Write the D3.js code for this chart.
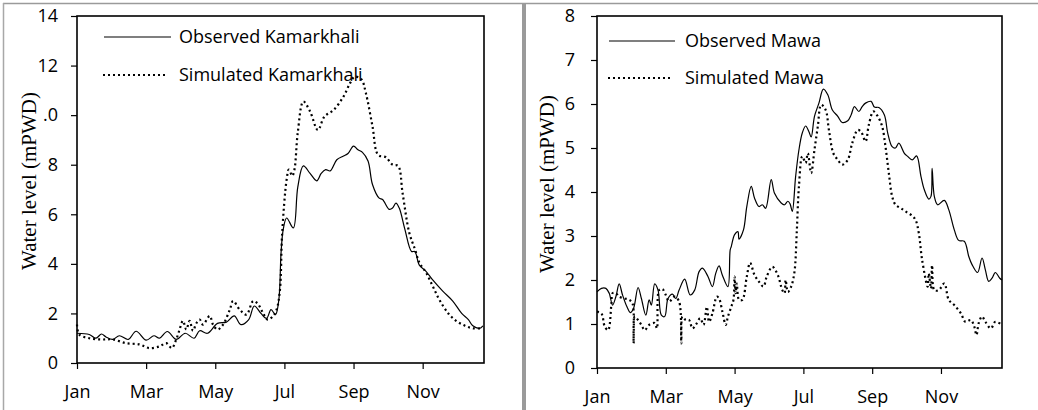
<!DOCTYPE html>
<html><head><meta charset="utf-8">
<script src="https://cdn.jsdelivr.net/npm/d3@7"></script>
<style>body{margin:0;background:#fff}svg{display:block}</style>
</head><body>
<svg id="c" width="1038" height="410"></svg>
<script>
// ---- data (day of year, water level mPWD) ----
const monthTickDays = [0, 62, 124, 186, 248, 310];
const monthTickLabels = ["Jan", "Mar", "May", "Jul", "Sep", "Nov"];

const kamTicks = [0, 2, 4, 6, 8, 10, 12, 14];
const kamTickLabels = ["0", "2", "4", "6", "8", ".0", "12", "14"];
const mawaTicks = [0, 1, 2, 3, 4, 5, 6, 7, 8];
const mawaTickLabels = ["0", "1", "2", "3", "4", "5", "6", "7", "8"];

const obsKamDays = [0,11,17,22,26,32,38,46,53,62,69,74,81,89,97,105,110,117,126,134,141,147,154,159,165,170,174,178,181,183,185,188,194,198,203,209,215,219,223,227,233,239,243,248,252,256,261,265,271,274,280,283,286,289,294,300,303,307,313,319,328,337,345,351,355,361,364];
const obsKamVals = [1.2,1.15,1.0,1.17,1.05,0.95,1.1,0.95,1.28,0.92,1.1,1.0,1.27,0.95,1.2,1.0,1.3,1.2,1.6,1.65,1.9,1.55,1.75,2.3,2.0,1.8,2.15,1.95,2.55,4.45,5.4,5.85,5.45,7.1,7.95,7.65,7.35,7.65,7.8,7.75,8.2,8.35,8.45,8.75,8.6,8.5,8.15,7.2,6.65,6.6,6.2,6.25,6.45,6.25,5.4,4.5,4.5,3.95,3.7,3.35,2.9,2.5,2.0,1.75,1.5,1.4,1.5];

const simKamDays = [0,2,11,22,32,44,56,65,74,80,85,89,92,95,98,101,104,107,110,113,119,122,126,131,137,140,146,152,158,162,167,171,176,179,182,184,188,190,193,195,198,203,209,216,222,230,239,245,249,255,259,265,270,277,283,288,292,298,303,307,313,319,325,333,340,348,355,364];
const simKamVals = [1.55,1.15,1.0,0.95,0.95,0.8,0.75,0.6,0.67,0.8,0.6,0.95,1.35,1.7,1.35,1.7,1.3,1.6,1.75,1.55,1.9,1.55,1.35,1.55,2.15,2.5,2.15,1.95,2.5,2.4,2.0,1.75,1.9,2.15,2.95,5.25,7.4,7.8,7.55,7.8,9.3,10.55,10.15,9.4,9.95,10.2,10.75,11.3,11.55,11.45,10.9,9.55,8.4,8.3,8.0,7.95,6.85,5.25,4.6,4.05,3.65,3.1,2.55,2.0,1.7,1.5,1.4,1.4];

const obsMawaDays = [0,4,8,11,14,17,20,23,27,30,33,37,40,44,47,49,52,55,58,61,64,68,71,74,79,84,88,92,95,100,104,107,110,113,118,120,121,124,127,128,132,135,139,142,146,149,152,157,160,166,169,172,174,176,179,182,185,188,191,193,196,200,204,208,212,217,221,226,229,232,236,239,242,247,250,254,259,262,266,269,272,277,280,284,288,292,295,299,301,302,304,307,313,317,322,326,331,335,338,343,347,350,353,356,359,363,365];
const obsMawaVals = [1.73,1.81,1.81,1.7,1.43,1.62,1.91,1.66,1.39,1.26,1.36,1.83,1.58,1.2,1.55,1.43,1.91,1.77,1.2,1.17,1.58,1.68,1.58,1.77,2.02,1.66,1.77,2.19,2.27,2.08,1.85,2.15,2.32,2.11,1.85,2.68,2.76,3.03,3.1,2.93,3.14,3.67,4.13,3.86,3.67,3.71,3.63,4.28,3.97,3.75,3.71,3.79,3.73,3.56,4.35,4.96,5.34,5.5,5.37,5.25,5.72,6.02,6.34,6.21,5.87,5.72,5.58,5.62,5.75,5.94,5.83,5.94,6.02,6.06,5.93,5.92,5.75,5.34,5.03,5.0,5.11,4.88,4.81,4.73,4.82,4.35,4.05,3.84,3.9,4.54,3.9,3.71,3.81,3.6,3.14,2.9,2.88,2.54,2.35,2.17,2.5,2.23,1.97,2.04,2.17,2.04,2.0];

const simMawaDays = [0,4,7,10,13,14,17,20,25,29,32,33,34,37,40,43,47,52,54,56,59,62,65,70,74,76,77,80,83,86,89,93,96,99,101,104,108,110,113,116,118,121,123,124,125,126,128,131,135,138,142,146,150,153,158,163,167,169,170,172,175,178,180,182,185,188,190,193,196,199,202,206,209,213,217,221,226,230,235,238,242,245,249,253,257,260,263,266,269,274,278,283,287,290,293,298,299,301,302,304,308,313,317,322,328,332,337,340,342,344,347,350,355,359,365];
const simMawaVals = [1.28,1.24,0.94,0.86,1.47,1.7,1.7,1.62,1.58,1.55,1.47,0.56,1.17,1.09,0.98,0.86,0.98,1.02,0.9,1.77,1.79,1.66,1.51,1.62,1.51,0.56,1.17,1.09,1.09,0.9,0.98,1.13,0.98,1.39,1.05,1.24,1.62,1.58,1.28,0.98,1.17,1.39,1.55,2.08,1.7,1.92,1.55,1.55,2.08,2.39,2.11,1.96,1.85,2.08,2.3,2.11,1.77,1.7,2.0,1.73,1.85,2.19,3.07,4.13,4.81,4.66,4.88,4.43,4.96,5.49,5.98,5.87,5.41,4.88,4.73,4.62,4.73,5.11,5.41,5.37,5.15,5.53,5.83,5.72,5.49,5.03,4.43,3.9,3.71,3.63,3.56,3.48,3.37,3.07,2.46,1.85,2.15,1.81,2.34,1.77,1.77,1.92,1.55,1.43,1.24,1.05,1.09,0.94,0.75,1.02,1.17,1.05,0.9,1.05,0.98];

const legendKam = ["Observed Kamarkhali", "Simulated Kamarkhali"];
const legendMawa = ["Observed Mawa", "Simulated Mawa"];
const yTitle = "Water level (mPWD)";

// ---- drawing ----
const svg = d3.select("#c");
const FONT = "'Open Sans', sans-serif";

// outer borders
svg.append("line").attr("x1", 3).attr("x2", 1038).attr("y1", 3.5).attr("y2", 3.5).attr("stroke", "#9a9a9a").attr("stroke-width", 1.5);
svg.append("line").attr("x1", 3.5).attr("x2", 3.5).attr("y1", 3).attr("y2", 410).attr("stroke", "#a8a8a8").attr("stroke-width", 1.5);
svg.append("rect").attr("x", 522).attr("y", 3).attr("width", 4).attr("height", 407).attr("fill", "#9a9a9a");

function panel(cfg) {
  const x = d3.scaleLinear().domain([0, 365]).range([cfg.x0, cfg.x1]);
  const y = d3.scaleLinear().domain(cfg.yDomain).range([cfg.y0, cfg.y1]);
  const g = svg.append("g");

  // y axis
  const ya = g.append("g").attr("transform", `translate(${cfg.x0},0)`)
    .call(d3.axisLeft(y).tickValues(cfg.yTicks).tickSize(6).tickPadding(cfg.yPad)
      .tickFormat((d, i) => cfg.yTickLabels[i]));
  ya.select(".domain").remove();
  ya.selectAll("line").attr("stroke", "#000").attr("stroke-width", 1.2);
  ya.selectAll("text").attr("font-family", FONT).attr("font-size", 18).attr("fill", "#000");

  // x axis
  const xa = g.append("g").attr("transform", `translate(0,${cfg.y0})`)
    .call(d3.axisBottom(x).tickValues(monthTickDays).tickSize(6).tickPadding(16)
      .tickFormat((d, i) => monthTickLabels[i]));
  xa.select(".domain").remove();
  xa.selectAll("line").attr("stroke", "#000").attr("stroke-width", 1.2);
  xa.selectAll("text").attr("font-family", FONT).attr("font-size", 18).attr("fill", "#000");

  // frame
  g.append("rect").attr("x", cfg.x0).attr("y", cfg.y1).attr("width", cfg.x1 - cfg.x0).attr("height", cfg.y0 - cfg.y1)
    .attr("fill", "none").attr("stroke", "#000").attr("stroke-width", 1.6);

  const line = d3.line().x(d => x(d[0])).y(d => y(d[1])).curve(d3.curveCatmullRom.alpha(0.5));
  const obs = cfg.obsDays.map((d, i) => [d, cfg.obsVals[i]]);
  const sim = cfg.simDays.map((d, i) => [d, cfg.simVals[i]]);
  g.append("path").datum(sim).attr("d", line).attr("fill", "none").attr("stroke", "#000")
    .attr("stroke-width", 2.2).attr("stroke-dasharray", "2,3");
  g.append("path").datum(obs).attr("d", line).attr("fill", "none").attr("stroke", "#000")
    .attr("stroke-width", 1.2);

  // legend
  const lg = g.append("g");
  lg.append("line").attr("x1", cfg.lx0).attr("x2", cfg.lx1).attr("y1", cfg.ly[0]).attr("y2", cfg.ly[0])
    .attr("stroke", "#000").attr("stroke-width", 1.2);
  lg.append("line").attr("x1", cfg.lx0 - 1).attr("x2", cfg.lx1 - 4).attr("y1", cfg.ly[1]).attr("y2", cfg.ly[1])
    .attr("stroke", "#000").attr("stroke-width", 2.2).attr("stroke-dasharray", "2,3");
  cfg.legend.forEach((t, i) => {
    lg.append("text").attr("x", cfg.tx).attr("y", cfg.ly[i]).attr("dy", "0.35em")
      .attr("font-family", FONT).attr("font-size", 18).attr("fill", "#000").text(t);
  });

  // y title
  g.append("text").attr("transform", `translate(${cfg.titleX},${cfg.titleY}) rotate(-90)`)
    .attr("text-anchor", "middle").attr("font-family", "'Liberation Serif', 'Times New Roman', serif")
    .attr("font-size", 21).attr("fill", "#000").text(yTitle);
}

panel({
  x0: 77, x1: 484, y0: 363, y1: 16, yDomain: [0, 14], yTicks: kamTicks, yTickLabels: kamTickLabels, yPad: 13,
  obsDays: obsKamDays, obsVals: obsKamVals, simDays: simKamDays, simVals: simKamVals,
  legend: legendKam, lx0: 104, lx1: 171, ly: [37, 75], tx: 179, titleX: 36, titleY: 181
});
panel({
  x0: 597, x1: 1002, y0: 368, y1: 16, yDomain: [0, 8], yTicks: mawaTicks, yTickLabels: mawaTickLabels, yPad: 16,
  obsDays: obsMawaDays, obsVals: obsMawaVals, simDays: simMawaDays, simVals: simMawaVals,
  legend: legendMawa, lx0: 609, lx1: 675, ly: [41, 78], tx: 685, titleX: 554, titleY: 184
});
</script>
</body></html>
